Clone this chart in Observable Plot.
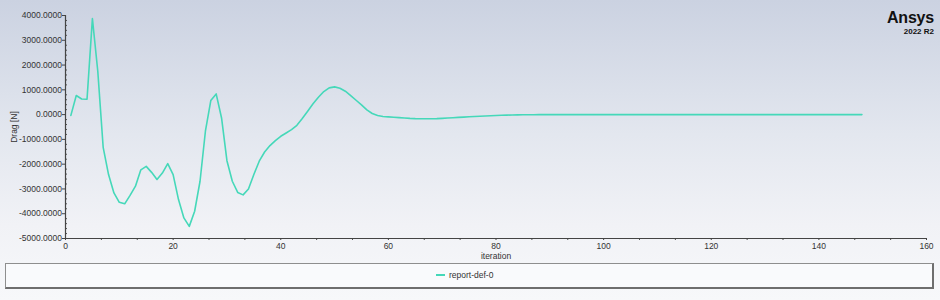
<!DOCTYPE html>
<html>
<head>
<meta charset="utf-8">
<script src="https://cdn.jsdelivr.net/npm/d3@7"></script>
<script src="https://cdn.jsdelivr.net/npm/@observablehq/plot@0.6"></script>
<style>
html,body{margin:0;padding:0;}
#wrap{position:relative;width:940px;height:300px;overflow:hidden;
  background:linear-gradient(to bottom,#cbd2e1 0%,#e3e7ef 45%,#f1f2f6 75%,#f7f8fa 100%);
  font-family:"Liberation Sans",Arial,sans-serif;}
#chart{position:absolute;left:0;top:0;}
#logo{position:absolute;right:6px;top:10px;text-align:right;color:#111;line-height:1;}
#logo .a{font-size:16px;font-weight:bold;letter-spacing:-0.2px;}
#logo .b{font-size:8px;font-weight:bold;margin-top:2px;}
#legend{position:absolute;left:5px;top:263px;width:929px;height:26px;box-sizing:border-box;
  background:#f9fafc;border:1px solid #8e8e8e;border-right:2px solid #6e6e6e;border-bottom:2px solid #6e6e6e;}
#legend .item{position:absolute;left:430px;top:6px;font-size:8.5px;color:#333;display:flex;align-items:center;}
#legend .sw{width:9px;height:2px;margin-right:4px;}
</style>
</head>
<body>
<div id="wrap">
  <div id="chart"></div>
  <div id="logo"><div class="a">Ansys</div><div class="b">2022 R2</div></div>
  <div id="legend"><div class="item"><span class="sw"></span><span class="lt"></span></div></div>
</div>
<script>
const seriesName = "report-def-0";
const lineColor = "#45d8b9";
const xLabel = "iteration";
const yLabel = "Drag [N]";
const xTicks = [0, 20, 40, 60, 80, 100, 120, 140, 160];
const yTicks = [-5000, -4000, -3000, -2000, -1000, 0, 1000, 2000, 3000, 4000];

const iterations = Array.from({length: 148}, (_, i) => i + 1);
const drag = [
  -30, 770, 630, 620, 3880, 1750, -1320, -2420, -3160, -3540,
  -3600, -3260, -2890, -2230, -2090, -2330, -2620, -2360, -1980, -2420,
  -3430, -4170, -4510, -3900, -2690, -670, 565, 835, -135, -1860,
  -2690, -3140, -3240, -3000, -2420, -1880, -1510, -1250, -1050, -875,
  -740, -605, -430, -160, 135, 435, 700, 930, 1080, 1120,
  1065, 945, 770, 580, 395, 190, 45, -35, -75, -90,
  -105, -120, -135, -150, -160, -165, -170, -165, -160, -150,
  -138, -125, -112, -100, -88, -76, -65, -55, -45, -36,
  -28, -22, -16, -12, -8, -5, -3, -1, 0, 0,
  0, 1, 1, 1, 1, 1, 1, 1, 0, 0,
  0, 0, 0, 0, 0, 0, 0, 0, 0, 0,
  0, 0, 0, 0, 0, 0, 0, 0, 0, 0,
  0, 0, 0, 0, 0, 0, 0, 0, 0, 0,
  0, 0, 0, 0, 0, 0, 0, 0, 0, 0,
  0, 0, 0, 0, 0, 0, 0, 0
];

const data = iterations.map((it, i) => ({iteration: it, drag: drag[i]}));
const yMinor = d3.range(-5000, 4001, 200).filter(v => v % 1000 !== 0);
const xMinor = d3.range(0, 160.01, 20 / 3).filter(v => Math.abs(v / 20 - Math.round(v / 20)) > 1e-6);

const plot = Plot.plot({
  width: 940,
  height: 263,
  marginLeft: 65,
  marginRight: 14,
  marginTop: 15,
  marginBottom: 25,
  style: {background: "transparent", fontFamily: "Liberation Sans, Arial, sans-serif", fontSize: "8.5px", color: "#333"},
  x: {domain: [0, 160]},
  y: {domain: [-5000, 4000]},
  marks: [
    Plot.axisY({ticks: yTicks, tickSize: 3, tickPadding: 0.5, tickFormat: d => d.toFixed(4),
      label: yLabel, labelAnchor: "center", labelArrow: "none", labelOffset: 55, stroke: "#444"}),
    Plot.axisY(yMinor, {tickSize: 2, dx: 2, fill: "none", label: null, stroke: "#555"}),
    Plot.axisX({ticks: xTicks, tickSize: 2, tickPadding: 2, label: xLabel, labelAnchor: "center",
      labelArrow: "none", labelOffset: 20, stroke: "#444"}),
    Plot.axisX(xMinor, {tickSize: 2, fill: "none", label: null, stroke: "#555"}),
    Plot.ruleX([0], {stroke: "#444", strokeWidth: 1.2}),
    Plot.ruleY([-5000], {stroke: "#444", strokeWidth: 1.2}),
    Plot.line(data, {x: "iteration", y: "drag", stroke: lineColor, strokeWidth: 1.6})
  ]
});
document.getElementById("chart").appendChild(plot);
document.querySelector("#legend .sw").style.background = lineColor;
document.querySelector("#legend .lt").textContent = seriesName;
</script>
</body>
</html>
